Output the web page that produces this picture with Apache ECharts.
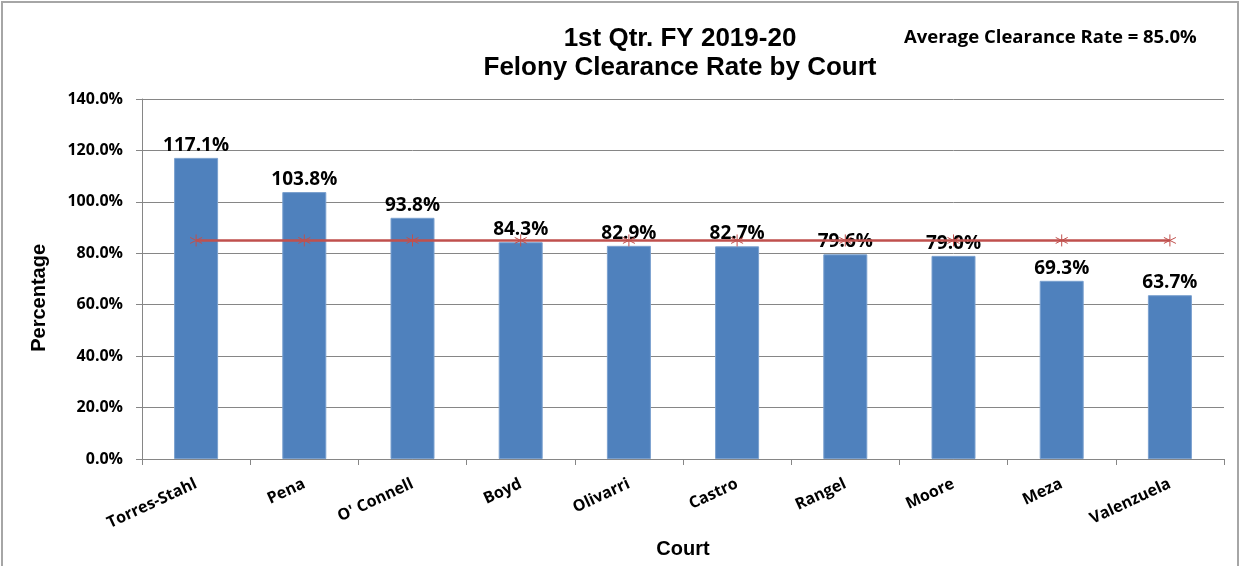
<!DOCTYPE html>
<html>
<head>
<meta charset="utf-8">
<script src="https://cdn.jsdelivr.net/npm/echarts@6/dist/echarts.min.js"></script>
<style>
html, body { margin: 0; padding: 0; background: #fff; }
#chart {
  position: absolute; left: 1px; top: 1px;
  width: 1238px; height: 570px;
  border: 2px solid #a6a6a6; box-sizing: border-box;
}
</style>
</head>
<body>
<div id="chart"></div>
<script>
const courts = ['Torres-Stahl', 'Pena', "O' Connell", 'Boyd', 'Olivarri', 'Castro', 'Rangel', 'Moore', 'Meza', 'Valenzuela']
const clearanceRate = [117.1, 103.8, 93.8, 84.3, 82.9, 82.7, 79.6, 79.0, 69.3, 63.7]
const averageRate = [85.0, 85.0, 85.0, 85.0, 85.0, 85.0, 85.0, 85.0, 85.0, 85.0]

const chart = echarts.init(document.getElementById('chart'))
const labelFont = '"Open Sans", Lato, sans-serif'
const nameFont = 'Arial, "Liberation Sans", sans-serif'

chart.setOption({
  animation: false,
  title: [
    {
      text: '1st Qtr. FY 2019-20\nFelony Clearance Rate by Court',
      left: 677,
      top: 21,
      padding: 0,
      textAlign: 'center',
      textStyle: {
        fontFamily: '"Liberation Sans Narrow", "Liberation Sans", Arial, sans-serif',
        fontSize: 26,
        fontWeight: 'bold',
        lineHeight: 29,
        color: '#000'
      }
    },
    {
      text: 'Average Clearance Rate = 85.0%',
      left: 901,
      top: 25,
      padding: 0,
      textStyle: {
        fontFamily: labelFont,
        fontSize: 18.5,
        fontWeight: 'bold',
        color: '#000'
      }
    }
  ],
  // y axis title sits a bit below the plot's middle, as in the source
  graphic: [
    {
      type: 'text',
      left: 26,
      top: 241,
      rotation: Math.PI / 2,
      style: {
        text: 'Percentage',
        fontFamily: nameFont,
        fontSize: 20,
        fontWeight: 'bold',
        fill: '#000'
      }
    }
  ],
  grid: { left: 139, right: 13, top: 96, bottom: 110 },
  xAxis: {
    type: 'category',
    data: courts,
    name: 'Court',
    nameLocation: 'middle',
    nameGap: 80,
    nameTextStyle: { fontFamily: nameFont, fontSize: 20, fontWeight: 'bold', color: '#000' },
    axisLine: { lineStyle: { color: '#868686', width: 1 } },
    axisTick: { show: true, length: 6, lineStyle: { color: '#868686' } },
    axisLabel: {
      rotate: 25,
      margin: 24,
      fontFamily: labelFont,
      fontSize: 16,
      fontWeight: 'bold',
      color: '#000'
    }
  },
  yAxis: {
    type: 'value',
    min: 0,
    max: 140,
    interval: 20,
    axisLine: { show: true, lineStyle: { color: '#868686', width: 1 } },
    axisTick: { show: true, length: 6, lineStyle: { color: '#868686' } },
    splitLine: { lineStyle: { color: '#868686', width: 1 } },
    axisLabel: {
      margin: 19,
      formatter: v => v.toFixed(1) + '%',
      fontFamily: labelFont,
      fontSize: 16,
      fontWeight: 'bold',
      color: '#000'
    }
  },
  series: [
    {
      name: 'Clearance Rate',
      type: 'bar',
      data: clearanceRate,
      barWidth: 44,
      itemStyle: { color: '#4f81bd', borderColor: '#7aa0cf', borderWidth: 1 },
      label: {
        show: true,
        position: 'top',
        distance: 3,
        formatter: p => p.value.toFixed(1) + '%',
        fontFamily: labelFont,
        fontSize: 19,
        fontWeight: 'bold',
        color: '#000'
      }
    },
    {
      name: 'Average',
      type: 'line',
      data: averageRate,
      symbol: 'path://M0,-1L0,1M-0.87,-0.5L0.87,0.5M-0.87,0.5L0.87,-0.5',
      symbolSize: 12,
      itemStyle: { color: '#c0504d', borderColor: '#c0504d', borderWidth: 1 },
      lineStyle: { color: '#c0504d', width: 2.5 },
      z: 3
    }
  ]
})
</script>
</body>
</html>
